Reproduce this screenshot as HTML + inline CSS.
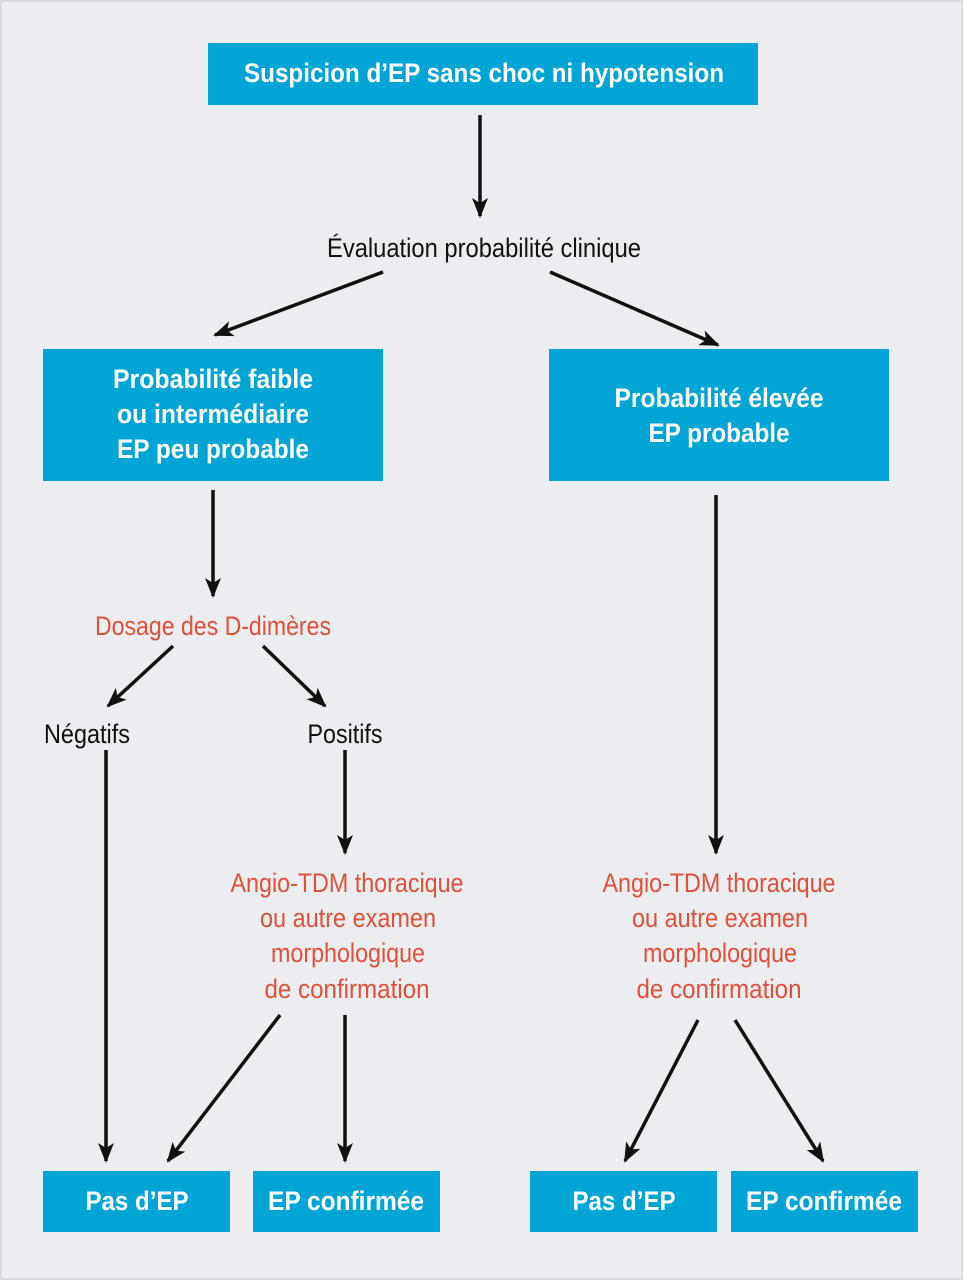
<!DOCTYPE html>
<html><head><meta charset="utf-8"><style>
html,body{margin:0;padding:0;background:#ebedf0;}
svg{display:block}
text{font-family:"Liberation Sans",sans-serif;font-size:27px;text-anchor:middle}
.w{fill:#fff;font-weight:bold}
.k{fill:#111}
.r{fill:#e0503a}
line{stroke:#111;stroke-width:3.5}
</style></head><body>
<svg width="963" height="1280" viewBox="0 0 963 1280">
<defs>
<marker id="a" markerWidth="20" markerHeight="20" viewBox="0 0 20 20" refX="18" refY="10" orient="auto" markerUnits="userSpaceOnUse">
<path d="M0,2 L20,10 L0,18 L5,10 Z" fill="#111"/>
</marker>
</defs>
<rect x="0" y="0" width="963" height="1280" fill="#ebedf0"/>
<rect x="1" y="1" width="961" height="1278" fill="none" stroke="#d8dadd" stroke-width="2"/>
<g fill="#00a5d6">
<rect x="208" y="43" width="550" height="62"/>
<rect x="43" y="349" width="340" height="132"/>
<rect x="549" y="349" width="340" height="132"/>
<rect x="43" y="1171" width="187" height="61"/>
<rect x="253" y="1171" width="187" height="61"/>
<rect x="530" y="1171" width="187" height="61"/>
<rect x="731" y="1171" width="187" height="61"/>
</g>
<g marker-end="url(#a)">
<line x1="480" y1="115" x2="480" y2="216"/>
<line x1="383" y1="272" x2="215" y2="335"/>
<line x1="550" y1="272" x2="718" y2="345"/>
<line x1="213" y1="490" x2="213" y2="596"/>
<line x1="173" y1="646" x2="108" y2="706"/>
<line x1="263" y1="646" x2="325" y2="706"/>
<line x1="106" y1="750" x2="106" y2="1161"/>
<line x1="345" y1="750" x2="345" y2="853"/>
<line x1="280" y1="1015" x2="168" y2="1161"/>
<line x1="345" y1="1015" x2="345" y2="1161"/>
<line x1="716" y1="495" x2="716" y2="853"/>
<line x1="698" y1="1020" x2="625" y2="1161"/>
<line x1="735" y1="1020" x2="823" y2="1161"/>
</g>
<text class="w" x="484" y="82" textLength="480" lengthAdjust="spacingAndGlyphs">Suspicion d’EP sans choc ni hypotension</text>
<text class="k" x="484" y="257" textLength="314" lengthAdjust="spacingAndGlyphs">Évaluation probabilité clinique</text>
<text class="w" x="213" y="388" textLength="200" lengthAdjust="spacingAndGlyphs">Probabilité faible</text>
<text class="w" x="213" y="423" textLength="192" lengthAdjust="spacingAndGlyphs">ou intermédiaire</text>
<text class="w" x="213" y="458" textLength="192" lengthAdjust="spacingAndGlyphs">EP peu probable</text>
<text class="w" x="719" y="407" textLength="209" lengthAdjust="spacingAndGlyphs">Probabilité élevée</text>
<text class="w" x="719" y="442" textLength="141" lengthAdjust="spacingAndGlyphs">EP probable</text>
<text class="r" x="213" y="635" textLength="236" lengthAdjust="spacingAndGlyphs">Dosage des D-dimères</text>
<text class="k" x="87" y="743" textLength="86" lengthAdjust="spacingAndGlyphs">Négatifs</text>
<text class="k" x="345" y="743" textLength="75" lengthAdjust="spacingAndGlyphs">Positifs</text>
<text class="r" x="347" y="892" textLength="233" lengthAdjust="spacingAndGlyphs">Angio-TDM thoracique</text>
<text class="r" x="348" y="927" textLength="176" lengthAdjust="spacingAndGlyphs">ou autre examen</text>
<text class="r" x="348" y="962" textLength="154" lengthAdjust="spacingAndGlyphs">morphologique</text>
<text class="r" x="347" y="998" textLength="165" lengthAdjust="spacingAndGlyphs">de confirmation</text>
<text class="r" x="719" y="892" textLength="233" lengthAdjust="spacingAndGlyphs">Angio-TDM thoracique</text>
<text class="r" x="720" y="927" textLength="176" lengthAdjust="spacingAndGlyphs">ou autre examen</text>
<text class="r" x="720" y="962" textLength="154" lengthAdjust="spacingAndGlyphs">morphologique</text>
<text class="r" x="719" y="998" textLength="165" lengthAdjust="spacingAndGlyphs">de confirmation</text>
<text class="w" x="137" y="1210" textLength="103" lengthAdjust="spacingAndGlyphs">Pas d’EP</text>
<text class="w" x="346" y="1210" textLength="156" lengthAdjust="spacingAndGlyphs">EP confirmée</text>
<text class="w" x="624" y="1210" textLength="103" lengthAdjust="spacingAndGlyphs">Pas d’EP</text>
<text class="w" x="824" y="1210" textLength="156" lengthAdjust="spacingAndGlyphs">EP confirmée</text>
</svg>
</body></html>
